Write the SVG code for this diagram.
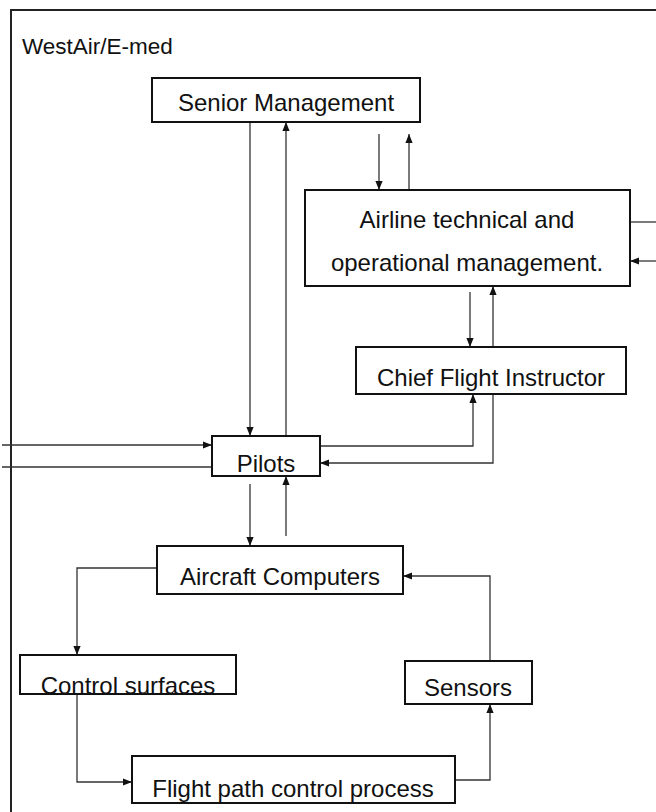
<svg xmlns="http://www.w3.org/2000/svg" width="656" height="812" viewBox="0 0 656 812">
<defs>
<marker id="ah" viewBox="0 0 10 10" refX="10" refY="5" markerWidth="9" markerHeight="9" markerUnits="userSpaceOnUse" orient="auto">
<path d="M0,1 L10,5 L0,9 Z" fill="#111"/>
</marker>
<style>
.box{fill:#fff;stroke:#111;stroke-width:2}
.t{font-family:"Liberation Sans",Arial,sans-serif;font-size:24px;fill:#111;text-anchor:middle}
.c{fill:none;stroke:#333;stroke-width:1.3}
.a{fill:none;stroke:#333;stroke-width:1.3;marker-end:url(#ah)}
</style>
</defs>
<rect x="0" y="0" width="656" height="812" fill="#fff"/>
<g id="frame">
<path d="M11,812 V10 H656" fill="none" stroke="#222" stroke-width="2"/>
<text x="22" y="54" font-family="Liberation Sans, Arial, sans-serif" font-size="22.5" fill="#111">WestAir/E-med</text>
</g>
<g id="connectors">
<path class="a" d="M250,122 V436"/>
<path class="a" d="M286,436 V122"/>
<path class="a" d="M379,134 V190"/>
<path class="a" d="M409,190 V134"/>
<path class="a" d="M470,292 V347"/>
<path class="a" d="M493,347 V286"/>
<path class="a" d="M320,446 H473 V394"/>
<path class="a" d="M493,394 V463 H320"/>
<path class="a" d="M2,445 H212"/>
<path class="c" d="M2,467 H212"/>
<path class="c" d="M630,222 H656"/>
<path class="a" d="M656,261 H630"/>
<path class="a" d="M250,484 V546"/>
<path class="a" d="M286,536 V476"/>
<path class="a" d="M157,568 H77 V655"/>
<path class="a" d="M77,694 V782 H132"/>
<path class="a" d="M455,780 H490 V704"/>
<path class="a" d="M490,661 V576 H403"/>
</g>
<g id="senior-management">
<rect class="box" x="152" y="78" width="268" height="44"/>
<text class="t" x="286" y="111">Senior Management</text>
</g>
<g id="airline-management">
<rect class="box" x="305" y="190" width="325" height="96"/>
<text class="t" x="467" y="228">Airline technical and</text>
<text class="t" x="467" y="271">operational management.</text>
</g>
<g id="chief-flight-instructor">
<rect class="box" x="356" y="347" width="270" height="47"/>
<text class="t" x="491" y="386">Chief Flight Instructor</text>
</g>
<g id="pilots">
<rect class="box" x="212" y="436" width="108" height="40"/>
<text class="t" x="266" y="472">Pilots</text>
</g>
<g id="aircraft-computers">
<rect class="box" x="157" y="546" width="246" height="48"/>
<text class="t" x="280" y="585">Aircraft Computers</text>
</g>
<g id="control-surfaces">
<rect class="box" x="20" y="655" width="216" height="39"/>
<text class="t" x="128" y="694">Control surfaces</text>
</g>
<g id="sensors">
<rect class="box" x="405" y="661" width="127" height="43"/>
<text class="t" x="468" y="696">Sensors</text>
</g>
<g id="flight-path">
<rect class="box" x="132" y="756" width="323" height="47"/>
<text class="t" x="293" y="797">Flight path control process</text>
</g>
</svg>
